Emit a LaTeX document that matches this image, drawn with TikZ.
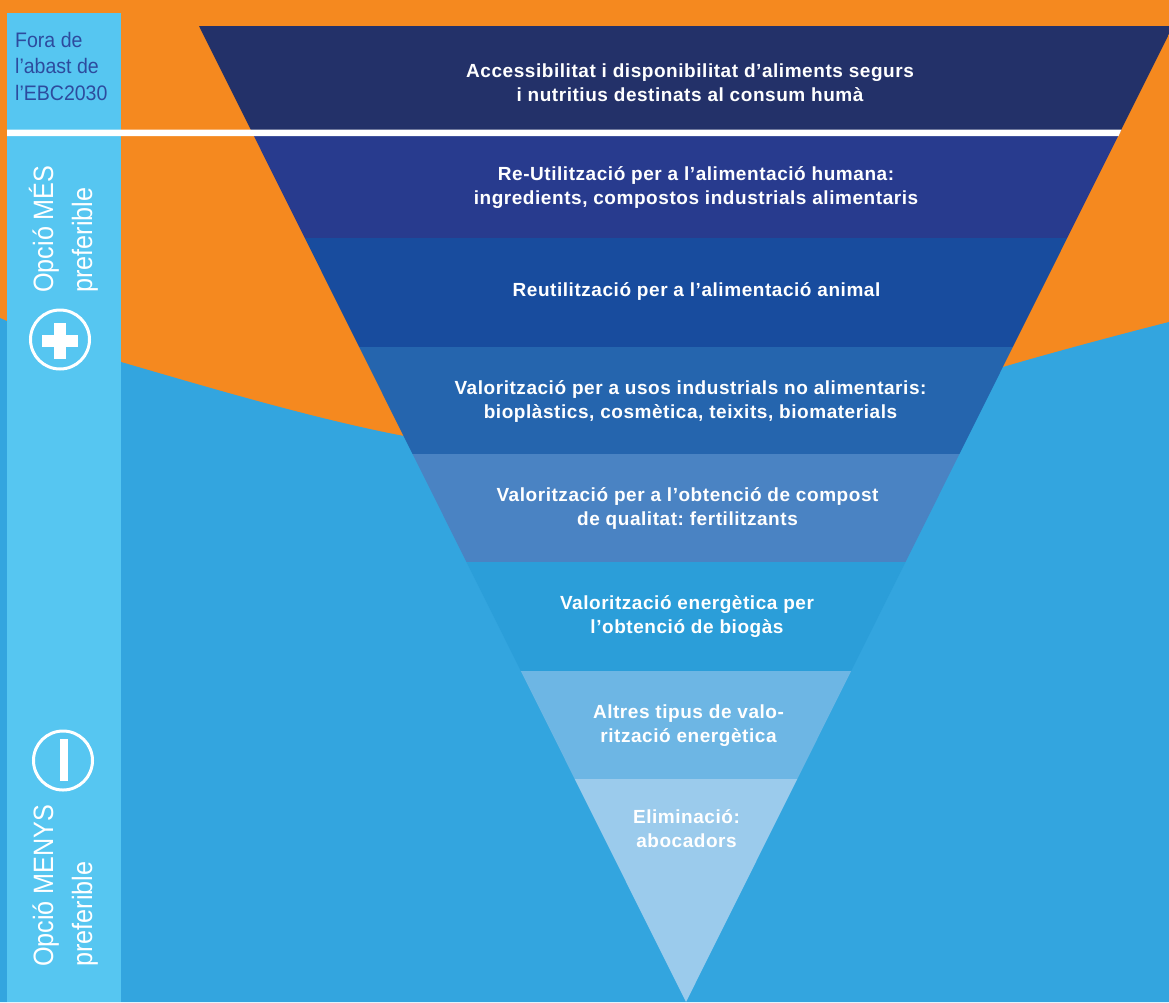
\documentclass[tikz,border=0pt]{standalone}
\usepackage{fontspec}
\setmainfont{Liberation Sans}
\newfontfamily\condfont[FakeStretch=0.93]{Liberation Sans}
\newfontfamily\tallcond[FakeStretch=0.9]{Liberation Sans}
\newfontfamily\bandfont[LetterSpace=2.9]{Liberation Sans}
\frenchspacing
\definecolor{orangebg}{HTML}{F5891F}
\definecolor{bluebg}{HTML}{33A5DF}
\definecolor{sidebar}{HTML}{56C6F1}
\definecolor{sidetext}{HTML}{2D4B9E}
\definecolor{bandA}{HTML}{233169}
\definecolor{bandB}{HTML}{283B8E}
\definecolor{bandC}{HTML}{184C9E}
\definecolor{bandD}{HTML}{2565AE}
\definecolor{bandE}{HTML}{4A83C3}
\definecolor{bandF}{HTML}{2B9ED9}
\definecolor{bandG}{HTML}{6DB6E4}
\definecolor{bandH}{HTML}{9BCBEC}
\begin{document}
\begin{tikzpicture}[x=1pt,y=-1pt,
  bandtext/.style={text=white, align=center, inner sep=0pt,
    font=\bandfont\fontsize{19}{24}\selectfont\bfseries},
  sidelabel/.style={text=sidetext, inner sep=0pt, anchor=base west,
    font=\condfont\fontsize{21}{26}\selectfont},
  vlabel/.style={text=white, inner sep=0pt, anchor=base west, rotate=90,
    font=\tallcond\fontsize{28}{38}\selectfont},
  signring/.style={draw=white, line width=3pt}]
\useasboundingbox (0,0) rectangle (1169,1002);
% background: orange sky and blue wave
\fill[orangebg] (0,0) rectangle (1169,1002);
\fill[bluebg] (0,1002) -- plot[smooth, tension=0.6] coordinates
  {(0,318) (121,362) (415,438) (690,462) (1003,367) (1169,322)}
  -- (1169,1002) -- cycle;
% inverted pyramid, cut into horizontal bands
\begin{scope}
  \clip (199,26) -- (1173,26) -- (686,1002) -- cycle;
  \fill[bandA] (150,26)  rectangle (1200,130);
  \fill[bandB] (150,130) rectangle (1200,238);
  \fill[bandC] (150,238) rectangle (1200,347);
  \fill[bandD] (150,347) rectangle (1200,454);
  \fill[bandE] (150,454) rectangle (1200,562);
  \fill[bandF] (150,562) rectangle (1200,671);
  \fill[bandG] (150,671) rectangle (1200,779);
  \fill[bandH] (150,779) rectangle (1200,1003);
\end{scope}
% side bar
\fill[sidebar] (7,13) rectangle (121,1002);
% white separator line
\fill[white] (7,129.5) -- (1121.5,129.5) -- (1118.5,136) -- (7,136) -- cycle;
% band labels
\node[bandtext] (l1) at (690,83) {Accessibilitat i disponibilitat d’aliments segurs\\i nutritius destinats al consum humà};
\node[bandtext] (l2) at (696,187.5) {Re-Utilització per a l’alimentació humana:\\ingredients, compostos industrials alimentaris};
\node[bandtext] (l3) at (696.5,291) {Reutilització per a l’alimentació animal};
\node[bandtext] (l4) at (690.5,401) {Valorització per a usos industrials no alimentaris:\\bioplàstics, cosmètica, teixits, biomaterials};
\node[bandtext] (l5) at (687.5,508.5) {Valorització per a l’obtenció de compost\\de qualitat: fertilitzants};
\node[bandtext] (l6) at (687,616.5) {Valorització energètica per\\l’obtenció de biogàs};
\node[bandtext] (l7) at (688.5,726) {Altres tipus de valo-\\rització energètica};
\node[bandtext] (l8) at (686.5,829) {Eliminació:\\abocadors};
% side bar texts
\node[sidelabel] (s1) at (15,47) {Fora de};
\node[sidelabel] (s2) at (15,73) {l’abast de};
\node[sidelabel] (s3) at (15,100) {l’EBC2030};
\node[vlabel] (m1) at (53,293) {Opció MÉS};
\node[vlabel] (m2) at (92,293) {preferible};
\node[vlabel] (n1) at (53,967) {Opció MENYS};
\node[vlabel] (n2) at (92,967) {preferible};
% plus and minus signs
\draw[signring] (60,339.5) circle (29.5);
\fill[white] (42,335) rectangle (78,347);
\fill[white] (54,323) rectangle (66,359);
\draw[signring] (63,760.5) circle (29.5);
\fill[white] (60,739) rectangle (68,781);
\end{tikzpicture}
\end{document}
